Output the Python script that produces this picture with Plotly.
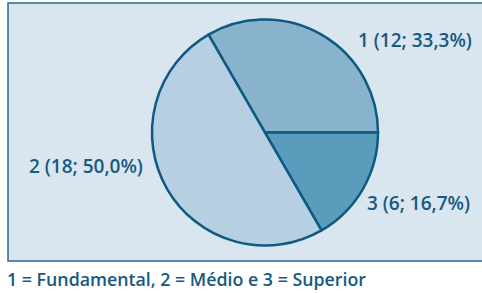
import plotly.graph_objects as go

labels = ["1", "3", "2"]
values = [12, 6, 18]
pcts = ["33,3%", "16,7%", "50,0%"]
colors = ["#89b2cd", "#5b9bbb", "#b7cfe2"]
caption = "1 = Fundamental, 2 = Médio e 3 = Superior"

W, H = 482, 293
line_col = "#0e5a80"
text_col = "#17597f"
font_fam = "Open Sans, Lato, sans-serif"

fig = go.Figure(go.Pie(
    labels=labels, values=values, sort=False, direction="clockwise", rotation=-30,
    marker=dict(colors=colors, line=dict(color=line_col, width=2.5)),
    textinfo="none", hoverinfo="skip", showlegend=False,
    domain=dict(x=[152 / W, 378 / W], y=[1 - 246 / H, 1 - 19 / H]),
))

label_pos = {"1": (415, 40), "3": (418, 203), "2": (86, 166)}
for lab, v, p in zip(labels, values, pcts):
    x, y = label_pos[lab]
    fig.add_annotation(x=x / W, y=1 - y / H, xref="paper", yref="paper",
                       text=f"{lab} ({v}; {p})", showarrow=False,
                       font=dict(size=19, color=text_col, family=font_fam, weight=600),
                       xanchor="center", yanchor="middle")

fig.add_annotation(x=5 / W, y=1 - 279 / H, xref="paper", yref="paper", text=caption,
                   showarrow=False, xanchor="left", yanchor="middle",
                   font=dict(size=17.8, color=text_col, family=font_fam, weight=600))

fig.add_shape(type="rect", xref="paper", yref="paper", x0=8 / W, x1=1.05,
              y0=1 - 261 / H, y1=1 - 3 / H, fillcolor="#d9e5ef",
              line=dict(color="#2a6a90", width=1.5), layer="below")

fig.update_layout(width=W, height=H, margin=dict(l=0, r=0, t=0, b=0),
                  paper_bgcolor="white", plot_bgcolor="white")
fig.write_html("out.html", config={"displayModeBar": False},
               post_script="document.body.style.margin='0';document.body.style.overflow='hidden';")
